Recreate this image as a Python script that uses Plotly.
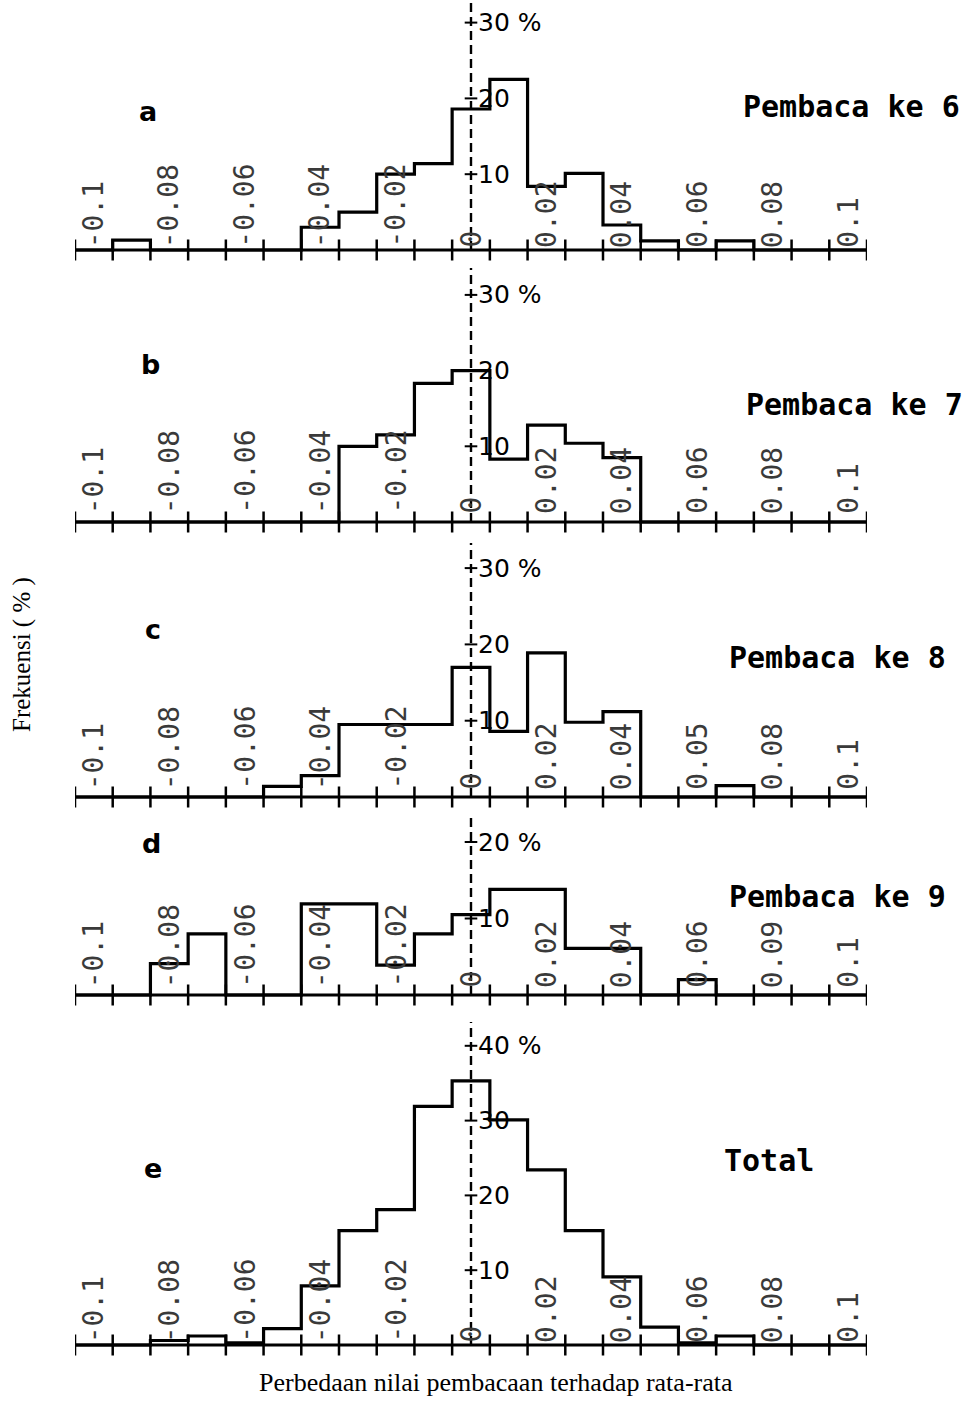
import plotly.graph_objects as go

# ---------------- data ----------------
# bin centres (bin width 0.01), values = frequency in %
bin_centers = [-0.10, -0.09, -0.08, -0.07, -0.06, -0.05, -0.04, -0.03, -0.02, -0.01,
               0.00, 0.01, 0.02, 0.03, 0.04, 0.05, 0.06, 0.07, 0.08, 0.09, 0.10]

freq_a = [0, 1.3, 0, 0, 0, 0, 3.0, 5.0, 10.0, 11.4, 18.6, 22.5, 8.4, 10.1, 3.3, 1.2, 0, 1.2, 0, 0, 0]
freq_b = [0, 0, 0, 0, 0, 0, 0, 10.0, 11.5, 18.3, 20.0, 8.3, 12.8, 10.4, 8.5, 0, 0, 0, 0, 0, 0]
freq_c = [0, 0, 0, 0, 0, 1.4, 2.8, 9.5, 9.5, 9.5, 17.0, 8.6, 18.9, 9.8, 11.2, 0, 0, 1.5, 0, 0, 0]
freq_d = [0, 0, 4.1, 8.0, 0, 0, 11.9, 11.9, 3.9, 8.0, 10.5, 13.8, 13.8, 6.1, 6.1, 0, 2.0, 0, 0, 0, 0]
freq_e = [0, 0, 0.6, 1.2, 0.3, 2.2, 7.9, 15.3, 18.1, 31.9, 35.3, 30.1, 23.4, 15.3, 9.1, 2.4, 0.3, 1.2, 0, 0, 0]

panel_letters = ["a", "b", "c", "d", "e"]
panel_titles = ["Pembaca ke 6", "Pembaca ke 7", "Pembaca ke 8", "Pembaca ke 9", "Total"]

xlabel_pos = [-0.1, -0.08, -0.06, -0.04, -0.02, 0, 0.02, 0.04, 0.06, 0.08, 0.1]
xlabels_std = ["-0.1", "-0.08", "-0.06", "-0.04", "-0.02", "0", "0.02", "0.04", "0.06", "0.08", "0.1"]
xlabels_c = ["-0.1", "-0.08", "-0.06", "-0.04", "-0.02", "0", "0.02", "0.04", "0.05", "0.08", "0.1"]
xlabels_d = ["-0.1", "-0.08", "-0.06", "-0.04", "-0.02", "0", "0.02", "0.04", "0.06", "0.09", "0.1"]

yticks_a = [10, 20, 30]
yticks_b = [10, 20, 30]
yticks_c = [10, 20, 30]
yticks_d = [10, 20]
yticks_e = [10, 20, 30, 40]

freqs = [freq_a, freq_b, freq_c, freq_d, freq_e]
xlabels = [xlabels_std, xlabels_std, xlabels_c, xlabels_d, xlabels_std]
yticks = [yticks_a, yticks_b, yticks_c, yticks_d, yticks_e]

# ---------------- layout geometry (pixels) ----------------
W, H = 971, 1401
X_LEFT, X_RIGHT = 75, 867
XMIN, XMAX = -0.105, 0.105
geom = [
    dict(top=0,    base=250,  bot=264,  ppu=7.58, lift=0, letter=(148, 112), title=(962, 107, "right")),
    dict(top=268,  base=522,  bot=536,  ppu=7.57, lift=6, letter=(150, 364), title=(965, 405, "right")),
    dict(top=543,  base=797,  bot=811,  ppu=7.63, lift=5, letter=(153, 629), title=(948, 658, "right")),
    dict(top=815,  base=995,  bot=1009, ppu=7.65, lift=5, letter=(151, 843), title=(948, 896, "right")),
    dict(top=1022, base=1345, bot=1360, ppu=7.48, lift=0, letter=(153, 1168), title=(722, 1160, "left")),
]

def px(x, y):
    return x / W, 1 - y / H

fig = go.Figure()
annotations = []
shapes = []
xdom = [X_LEFT / W, X_RIGHT / W]

edges = [round(c - 0.005, 3) for c in bin_centers] + [round(bin_centers[-1] + 0.005, 3)]

for i, g in enumerate(geom):
    n = "" if i == 0 else str(i + 1)
    xa, ya = "x" + n, "y" + n
    ymin = -(g["bot"] - g["base"]) / g["ppu"]
    ymax = (g["base"] - g["top"]) / g["ppu"]
    fig.update_layout(**{
        "xaxis" + n: dict(domain=xdom, range=[XMIN, XMAX], anchor=ya, visible=False, fixedrange=True),
        "yaxis" + n: dict(domain=[1 - g["bot"] / H, 1 - g["top"] / H], range=[ymin, ymax],
                          anchor=xa, visible=False, fixedrange=True),
    })
    vals = freqs[i]
    fig.add_trace(go.Scatter(x=[edges[0], edges[-1]], y=[0, 0], mode="lines",
                             line=dict(color="black", width=3), xaxis=xa, yaxis=ya,
                             showlegend=False, hoverinfo="skip"))
    fig.add_trace(go.Scatter(x=edges, y=vals + [vals[-1]], mode="lines",
                             line=dict(color="black", width=3.2, shape="hv"),
                             xaxis=xa, yaxis=ya, showlegend=False))
    fig.add_trace(go.Scatter(x=edges, y=[0] * len(edges), mode="markers",
                             marker=dict(symbol="line-ns", size=15,
                                         line=dict(color="black", width=2.5)),
                             xaxis=xa, yaxis=ya, showlegend=False, hoverinfo="skip"))
    fig.add_trace(go.Scatter(x=[0] * len(yticks[i]), y=yticks[i], mode="markers",
                             marker=dict(symbol="line-ew", size=9,
                                         line=dict(color="black", width=2)),
                             xaxis=xa, yaxis=ya, showlegend=False, hoverinfo="skip"))
    shapes.append(dict(type="line", xref=xa, yref=ya, x0=0, x1=0, y0=0, y1=ymax,
                       line=dict(color="black", width=2.4, dash="9px,5px")))
    for k, t in enumerate(yticks[i]):
        txt = f"{t} %" if k == len(yticks[i]) - 1 else str(t)
        annotations.append(dict(x=0, y=t, xref=xa, yref=ya, text=txt, showarrow=False,
                                xanchor="left", yanchor="middle", xshift=5,
                                font=dict(family="DejaVu Sans", size=25, color="black")))
    for p, lab in zip(xlabel_pos, xlabels[i]):
        annotations.append(dict(x=p, y=1 - (g["base"] - g["lift"]) / H, xref=xa, yref="paper",
                                text=lab, showarrow=False, textangle=-90,
                                xanchor="center", yanchor="bottom",
                                font=dict(family="DejaVu Sans Mono", size=28, color="#3a3a3a")))
    lx, ly = px(*g["letter"])
    annotations.append(dict(x=lx, y=ly, xref="paper", yref="paper", text=panel_letters[i],
                            showarrow=False, xanchor="center", yanchor="middle",
                            font=dict(family="DejaVu Sans", size=27, color="black", weight="bold")))
    tx, ty = px(g["title"][0], g["title"][1])
    annotations.append(dict(x=tx, y=ty, xref="paper", yref="paper", text=panel_titles[i],
                            showarrow=False, xanchor=g["title"][2], yanchor="middle",
                            font=dict(family="DejaVu Sans Mono", size=30, color="black", weight="bold")))

yx, yy = px(22, 655)
annotations.append(dict(x=yx, y=yy, xref="paper", yref="paper", text="Frekuensi ( % )",
                        showarrow=False, textangle=-90, xanchor="center", yanchor="middle",
                        font=dict(family="Liberation Serif", size=25, color="black")))
bx, by = px(496, 1382)
annotations.append(dict(x=bx, y=by, xref="paper", yref="paper",
                        text="Perbedaan nilai pembacaan terhadap rata-rata",
                        showarrow=False, xanchor="center", yanchor="middle",
                        font=dict(family="Liberation Serif", size=26, color="black")))

fig.update_layout(width=W, height=H, margin=dict(l=0, r=0, t=0, b=0),
                  paper_bgcolor="white", plot_bgcolor="white",
                  annotations=annotations, shapes=shapes, showlegend=False)

fig.write_html("out.html", config={"displayModeBar": False},
               post_script="document.body.style.margin='0';document.body.style.overflow='hidden';")
